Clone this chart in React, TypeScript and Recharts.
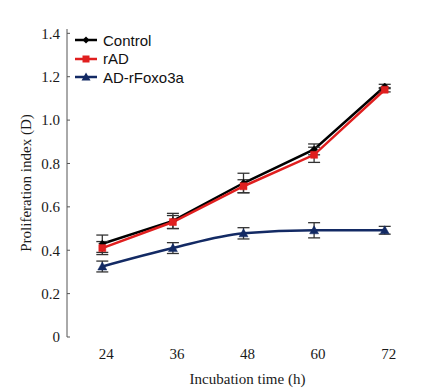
import { LineChart, Line, XAxis, YAxis, ErrorBar, Label } from "recharts"

const TIMES = [24, 36, 48, 60, 72]
const TIME_BOUNDS = [18, 30, 42, 54, 66, 78]
const Y_TICKS = [0, 0.2, 0.4, 0.6, 0.8, 1.0, 1.2, 1.4]

const CONTROL = [0.43, 0.535, 0.71, 0.865, 1.155]
const CONTROL_ERR = [0.04, 0.035, 0.045, 0.025, 0.01]
const RAD = [0.41, 0.53, 0.695, 0.84, 1.14]
const RAD_ERR = [0.03, 0.03, 0.03, 0.035, 0.01]
const FOXO = [0.325, 0.41, 0.478, 0.492, 0.492]
const FOXO_ERR = [0.025, 0.025, 0.026, 0.035, 0.018]

type Shape = "diamond" | "square" | "triangle"

interface SeriesDef {
    key: string
    name: string
    color: string
    shape: Shape
    curve: "linear" | "monotone"
}

const SERIES: SeriesDef[] = [
    { key: "control", name: "Control", color: "#000000", shape: "diamond", curve: "linear" },
    { key: "rad", name: "rAD", color: "#e01f1f", shape: "square", curve: "linear" },
    { key: "foxo", name: "AD-rFoxo3a", color: "#132a64", shape: "triangle", curve: "monotone" },
]

const data = TIMES.map((t, i) => ({
    time: t,
    control: CONTROL[i],
    controlErr: CONTROL_ERR[i],
    rad: RAD[i],
    radErr: RAD_ERR[i],
    foxo: FOXO[i],
    foxoErr: FOXO_ERR[i],
}))

const SERIF = "'Liberation Serif', 'Times New Roman', serif"
const SANS = "'Liberation Sans', Arial, sans-serif"

const markerPath = (shape: Shape, cx: number, cy: number) => {
    if (shape === "diamond") return `M${cx},${cy - 3.5}L${cx + 3.5},${cy}L${cx},${cy + 3.5}L${cx - 3.5},${cy}Z`
    if (shape === "square") return `M${cx - 3.5},${cy - 3.5}h7v7h-7Z`
    return `M${cx},${cy - 4.5}L${cx + 4.5},${cy + 3.5}L${cx - 4.5},${cy + 3.5}Z`
}

const makeDot = (s: SeriesDef) => (props: any) => {
    const { cx, cy, index } = props
    if (cx == null || cy == null) return <g key={`${s.key}-dot-${index}`} />
    return <path key={`${s.key}-dot-${index}`} d={markerPath(s.shape, cx, cy)} fill={s.color} stroke={s.color} strokeWidth={0.5} />
}

const LegendBox = () => (
    <div style={{ position: "absolute", left: 75, top: 31, fontFamily: SANS, fontSize: 15, color: "#111" }}>
        {SERIES.map((s) => (
            <div key={s.key} style={{ display: "flex", alignItems: "center", height: 18.5 }}>
                <svg width={24} height={12} style={{ marginRight: 4 }}>
                    <line x1={0} y1={6} x2={22} y2={6} stroke={s.color} strokeWidth={2.5} />
                    <path d={markerPath(s.shape, 11, 6)} fill={s.color} />
                </svg>
                <span>{s.name}</span>
            </div>
        ))}
    </div>
)

export default function App() {
    return (
        <div style={{ position: "absolute", left: 0, top: 0, width: 427, height: 392, background: "#fff" }}>
            <LineChart width={427} height={392} data={data} margin={{ top: 29, right: 7, bottom: 25, left: 0 }}>
                <XAxis
                    xAxisId="bounds"
                    type="number"
                    dataKey="time"
                    domain={[18, 78]}
                    ticks={TIME_BOUNDS}
                    tick={false}
                    axisLine={false}
                    tickLine={{ stroke: "#9a9a9a" }}
                    tickSize={4}
                    height={0}
                />
                <XAxis
                    xAxisId="main"
                    type="number"
                    dataKey="time"
                    domain={[18, 78]}
                    ticks={TIMES}
                    axisLine={false}
                    tickLine={false}
                    tickMargin={5}
                    height={30}
                    tick={{ fontFamily: SERIF, fontSize: 15, fill: "#1a1a1a", dx: 4 }}
                >
                    <Label
                        value="Incubation time (h)"
                        position="bottom"
                        offset={6}
                        dx={4}
                        style={{ fontFamily: SERIF, fontSize: 15, fill: "#1a1a1a" }}
                    />
                </XAxis>
                <YAxis
                    domain={[0, 1.42]}
                    ticks={Y_TICKS}
                    width={67}
                    axisLine={{ stroke: "#555" }}
                    tickLine={{ stroke: "#555" }}
                    tickSize={-3}
                    tickMargin={10}
                    tickFormatter={(v: number) => (v === 0 ? "0" : v.toFixed(1))}
                    tick={{ fontFamily: SERIF, fontSize: 15, fill: "#1a1a1a" }}
                >
                    <Label
                        value="Proliferation index (D)"
                        angle={-90}
                        position="insideLeft"
                        offset={26}
                        style={{ fontFamily: SERIF, fontSize: 15, fill: "#1a1a1a", textAnchor: "middle" }}
                    />
                </YAxis>
                {SERIES.map((s) => (
                    <Line
                        key={s.key}
                        xAxisId="main"
                        type={s.curve}
                        dataKey={s.key}
                        name={s.name}
                        stroke={s.color}
                        strokeWidth={2.5}
                        dot={makeDot(s)}
                        activeDot={false}
                        isAnimationActive={false}
                    >
                        <ErrorBar dataKey={`${s.key}Err`} direction="y" width={6} stroke="#333" strokeWidth={1.3} />
                    </Line>
                ))}
            </LineChart>
            <LegendBox />
        </div>
    )
}
